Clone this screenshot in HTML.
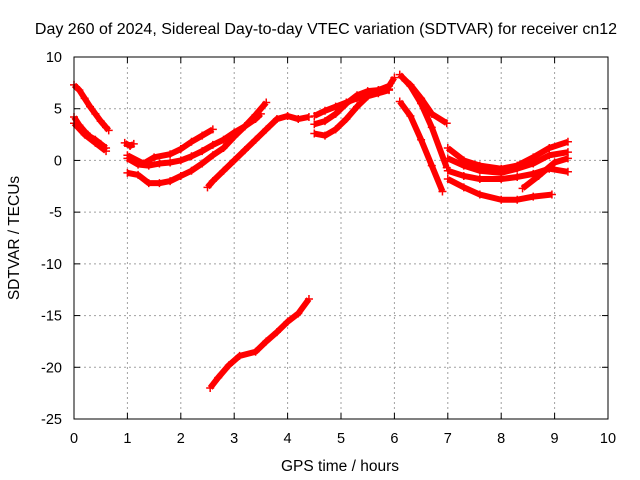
<!DOCTYPE html>
<html><head><meta charset="utf-8"><style>
body{margin:0;background:#fff}
svg{display:block;font-family:"Liberation Sans",sans-serif}
</style></head><body>
<svg id="chart" width="640" height="480" xmlns="http://www.w3.org/2000/svg">
<rect width="640" height="480" fill="#fff"/>
<g id="grid"></g><g id="marks"></g><g id="axes"></g>
<text x="326" y="34" font-size="16" text-anchor="middle">Day 260 of 2024, Sidereal Day-to-day VTEC variation (SDTVAR) for receiver cn12</text>
<text x="340" y="471" font-size="15.5" text-anchor="middle">GPS time / hours</text>
<text transform="translate(19,238) rotate(-90)" font-size="15.5" text-anchor="middle">SDTVAR / TECUs</text>
</svg>
<script>
const xTicks=[0,1,2,3,4,5,6,7,8,9,10];
const yTicks=[10,5,0,-5,-10,-15,-20,-25];
const tA=[0,0.1,0.2,0.3,0.4,0.5,0.6,0.65], vA=[7.3,6.8,6.0,5.2,4.5,3.8,3.2,2.9];
const tB=[0,0.1,0.2,0.3,0.4,0.5,0.6], vB=[4.2,3.4,2.8,2.3,2.0,1.6,1.2];
const tB2=[0,0.2,0.4,0.6], vB2=[3.6,2.5,1.7,0.9];
const tC0=[0.95,1.05,1.12], vC0=[1.7,1.4,1.6];
const tC=[1.0,1.3,1.5,1.8,2.0,2.2,2.4,2.6], vC=[0.5,-0.3,0.3,0.6,1.1,1.8,2.4,3.0];
const tD=[1.0,1.2,1.4,1.6,1.8,2.0,2.2,2.4,2.6,2.8,3.0,3.2,3.4,3.5], vD=[0.2,-0.4,-0.5,-0.3,-0.2,0,0.4,0.9,1.5,2.0,2.7,3.3,4.0,4.5];
const tE=[1.0,1.2,1.4,1.6,1.8,2.0,2.2,2.4,2.6,2.8,3.0,3.2,3.4,3.6], vE=[-1.2,-1.4,-2.2,-2.2,-2.0,-1.5,-1.0,-0.3,0.5,1.2,2.3,3.3,4.4,5.6];
const tF=[2.5,2.6,2.8,3.0,3.2,3.4,3.6,3.8,4.0,4.2,4.4], vF=[-2.6,-2.0,-1.0,0,1.0,2.0,3.0,4.0,4.3,4.0,4.2];
const tH=[4.5,4.7,4.9,5.1,5.3,5.5,5.7,5.9,6.0], vH=[4.3,4.8,5.2,5.6,6.0,6.5,6.8,7.2,8.0];
const tI=[4.5,4.7,4.9,5.1,5.3,5.5,5.7,5.9], vI=[3.5,3.8,4.5,5.5,6.3,6.7,6.8,6.9];
const tJ=[4.5,4.7,4.9,5.1,5.3,5.5,5.7,5.9], vJ=[2.6,2.4,3.0,4.0,5.2,6.2,6.5,6.8];
const tK=[6.1,6.3,6.5,6.7,6.98], vK=[8.3,7.2,5.5,3.2,-0.7];
const tK2=[6.15,6.3,6.5,6.7,6.98], vK2=[8.0,7.3,6.0,4.5,3.6];
const tL=[6.1,6.3,6.5,6.7,6.9], vL=[5.7,4.3,2.0,-0.5,-3.0];
const tM1=[7.0,7.3,7.6,8.0,8.3,8.6,8.9,9.25], vM1=[1.2,0,-0.5,-0.8,-0.5,0.3,1.2,1.8];
const tM2=[7.0,7.3,7.6,8.0,8.3,8.6,8.9,9.25], vM2=[0.2,-0.5,-1.0,-1.2,-0.8,-0.3,0.5,0.8];
const tM3=[7.0,7.3,7.6,8.0,8.3,8.6,8.9,9.25], vM3=[-1.0,-1.5,-1.8,-1.8,-1.6,-1.3,-0.8,-1.1];
const tM4=[7.0,7.3,7.6,8.0,8.3,8.6,8.95], vM4=[-1.8,-2.6,-3.3,-3.8,-3.8,-3.5,-3.3];
const tM5=[8.4,8.7,9.0,9.25], vM5=[-2.7,-1.5,-0.2,0.2];
const tN=[2.55,2.7,2.9,3.1,3.4,3.6,3.8,4.0,4.2,4.4], vN=[-22,-21,-19.8,-18.9,-18.5,-17.5,-16.6,-15.6,-14.8,-13.4];
const series=[[tA,vA],[tB,vB],[tB2,vB2],[tC0,vC0],[tC,vC],[tD,vD],[tE,vE],[tF,vF],[tH,vH],[tI,vI],[tJ,vJ],[tK,vK],[tK2,vK2],[tL,vL],[tM1,vM1],[tM2,vM2],[tM3,vM3],[tM4,vM4],[tM5,vM5],[tN,vN]];
const X0=74,X1=608,Y0=57,Y1=419;
const xs=t=>X0+(t-0)/(10-0)*(X1-X0);
const ys=v=>Y1-(v+25)/(35)*(Y1-Y0);
const NS="http://www.w3.org/2000/svg";
function mk(tag,at,p){const e=document.createElementNS(NS,tag);for(const k in at)e.setAttribute(k,at[k]);p.appendChild(e);return e;}
const grid=document.getElementById('grid'),axes=document.getElementById('axes'),marks=document.getElementById('marks');
xTicks.forEach(t=>{const x=xs(t);
 if(t>0&&t<10){const g=mk('line',{x1:x,x2:x,y1:Y0,y2:Y1,stroke:'#a0a0a0','stroke-dasharray':'2,3'},grid);
 
 }
 mk('line',{x1:x,x2:x,y1:Y1,y2:Y1-6,stroke:'#000'},axes);mk('line',{x1:x,x2:x,y1:Y0,y2:Y0+6,stroke:'#000'},axes);
 const l=mk('text',{x:x,y:443,'font-size':14.5,'text-anchor':'middle'},axes);l.textContent=t;
 
 });
yTicks.forEach(v=>{const y=ys(v);
 if(v>-25&&v<10){const g=mk('line',{x1:X0,x2:X1,y1:y,y2:y,stroke:'#a0a0a0','stroke-dasharray':'2,3'},grid);
 
 }
 mk('line',{x1:X0,x2:X0+6,y1:y,y2:y,stroke:'#000'},axes);mk('line',{x1:X1,x2:X1-6,y1:y,y2:y,stroke:'#000'},axes);
 const l=mk('text',{x:62,y:y+5,'font-size':14.5,'text-anchor':'end'},axes);l.textContent=v;
 
 });
const fr=mk('rect',{x:X0,y:Y0,width:X1-X0,height:Y1-Y0,fill:'none',stroke:'#000'},axes);


series.forEach(([t,v])=>{
 const pl=mk('polyline',{points:t.map((tt,i)=>xs(tt)+','+ys(v[i])).join(' '),fill:'none',stroke:'#f00','stroke-width':6,'stroke-linejoin':'round'},marks);
 
 
 t.forEach((tt,i)=>{const x=xs(tt),y=ys(v[i]);
  const p=mk('path',{d:`M${x-4},${y}h8M${x},${y-4}v8`,stroke:'#f00','stroke-width':1.5},marks);
  
  });
});
</script>
</body></html>
